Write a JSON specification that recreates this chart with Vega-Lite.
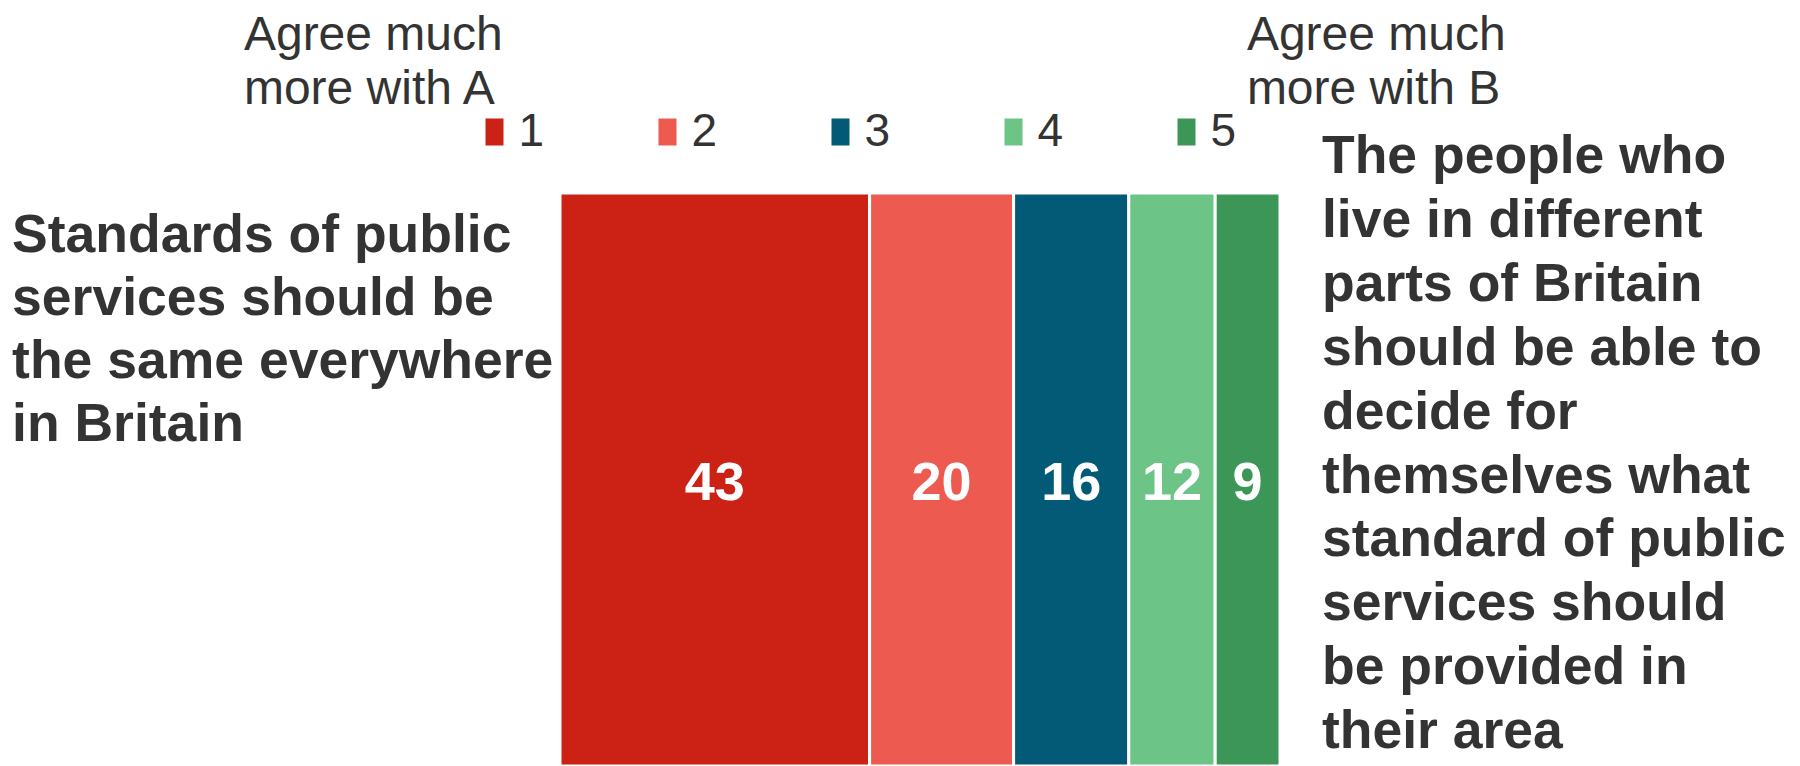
{
  "$schema": "https://vega.github.io/schema/vega-lite/v6.json",
  "width": 720,
  "height": 573,
  "autosize": {"type": "none"},
  "padding": {"left": 560, "top": 193, "right": 520, "bottom": 0},
  "background": "white",
  "config": {"view": {"stroke": null}},
  "datasets": {
    "responses": [
      {"response": "1", "pct": 43},
      {"response": "2", "pct": 20},
      {"response": "3", "pct": 16},
      {"response": "4", "pct": 12},
      {"response": "5", "pct": 9}
    ],
    "notes": [
      {"id": "A", "text": "Standards of public\nservices should be\nthe same everywhere\nin Britain"},
      {"id": "B", "text": "The people who\nlive in different\nparts of Britain\nshould be able to\ndecide for\nthemselves what\nstandard of public\nservices should\nbe provided in\ntheir area"},
      {"id": "endA", "text": "Agree much\nmore with A"},
      {"id": "endB", "text": "Agree much\nmore with B"}
    ]
  },
  "layer": [
    {
      "data": {"name": "responses"},
      "transform": [
        {"stack": "pct", "groupby": [], "sort": [{"field": "response", "order": "ascending"}], "as": ["x0", "x1"]}
      ],
      "mark": {"type": "bar", "stroke": "white", "strokeWidth": 3},
      "encoding": {
        "x": {"field": "x0", "type": "quantitative", "scale": {"domain": [0, 100]}, "axis": null},
        "x2": {"field": "x1"},
        "y": {"datum": 0, "type": "quantitative", "scale": {"domain": [0, 1]}, "axis": null},
        "y2": {"datum": 1},
        "color": {
          "field": "response",
          "type": "nominal",
          "scale": {"domain": ["1", "2", "3", "4", "5"], "range": ["#cb2215", "#ec5a50", "#035a77", "#6cc486", "#3b9657"]},
          "legend": {
            "title": null,
            "orient": "none",
            "direction": "horizontal",
            "columns": 5,
            "legendX": -88.5,
            "legendY": -84,
            "padding": 0,
            "symbolType": "M-0.667,-1H0.667V1H-0.667Z",
            "symbolSize": 729,
            "symbolStrokeWidth": 0,
            "symbolOpacity": 1,
            "labelFont": "Liberation Sans, Arial, sans-serif",
            "labelFontSize": 46,
            "labelColor": "#333333",
            "labelOffset": 1,
            "columnPadding": 100
          }
        }
      }
    },
    {
      "data": {"name": "responses"},
      "transform": [
        {"stack": "pct", "groupby": [], "sort": [{"field": "response", "order": "ascending"}], "as": ["x0", "x1"]},
        {"fold": ["x0", "x1"], "as": ["edge", "pos"]}
      ],
      "mark": {"type": "text", "align": "center", "baseline": "alphabetic", "font": "Liberation Sans, Arial, sans-serif", "fontWeight": "bold", "fontSize": 54, "fill": "white"},
      "encoding": {
        "x": {"field": "pos", "type": "quantitative", "aggregate": "mean"},
        "y": {"datum": 0.4642, "type": "quantitative"},
        "detail": {"field": "response", "type": "nominal"},
        "text": {"field": "pct", "type": "quantitative", "aggregate": "max"}
      }
    },
    {
      "data": {"name": "notes"},
      "transform": [{"filter": "datum.id === 'A'"}],
      "mark": {"type": "text", "align": "left", "baseline": "alphabetic", "lineBreak": "\n", "lineHeight": 63, "font": "Liberation Sans, Arial, sans-serif", "fontWeight": "bold", "fontSize": 53.5, "fill": "#333333"},
      "encoding": {
        "x": {"datum": -76.1, "type": "quantitative"},
        "y": {"datum": 0.897, "type": "quantitative"},
        "text": {"field": "text", "type": "nominal"}
      }
    },
    {
      "data": {"name": "notes"},
      "transform": [{"filter": "datum.id === 'B'"}],
      "mark": {"type": "text", "align": "left", "baseline": "alphabetic", "lineBreak": "\n", "lineHeight": 63.9, "font": "Liberation Sans, Arial, sans-serif", "fontWeight": "bold", "fontSize": 53.5, "fill": "#333333"},
      "encoding": {
        "x": {"datum": 105.83, "type": "quantitative"},
        "y": {"datum": 1.0349, "type": "quantitative"},
        "text": {"field": "text", "type": "nominal"}
      }
    },
    {
      "data": {"name": "notes"},
      "transform": [{"filter": "datum.id === 'endA'"}],
      "mark": {"type": "text", "align": "left", "baseline": "alphabetic", "lineBreak": "\n", "lineHeight": 54.5, "font": "Liberation Sans, Arial, sans-serif", "fontSize": 48, "fill": "#333333"},
      "encoding": {
        "x": {"datum": -43.9, "type": "quantitative"},
        "y": {"datum": 1.2496, "type": "quantitative"},
        "text": {"field": "text", "type": "nominal"}
      }
    },
    {
      "data": {"name": "notes"},
      "transform": [{"filter": "datum.id === 'endB'"}],
      "mark": {"type": "text", "align": "left", "baseline": "alphabetic", "lineBreak": "\n", "lineHeight": 54.5, "font": "Liberation Sans, Arial, sans-serif", "fontSize": 48, "fill": "#333333"},
      "encoding": {
        "x": {"datum": 95.4, "type": "quantitative"},
        "y": {"datum": 1.2496, "type": "quantitative"},
        "text": {"field": "text", "type": "nominal"}
      }
    }
  ]
}
